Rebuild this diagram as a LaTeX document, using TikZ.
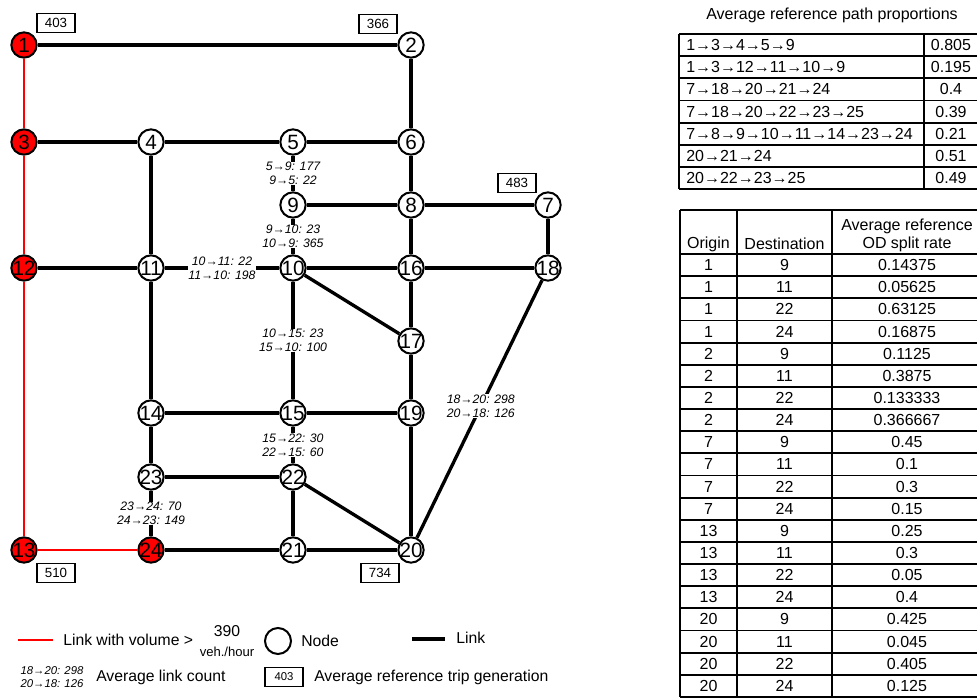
\documentclass[tikz,border=0pt]{standalone}
\usepackage{fontspec}
\setmainfont{Liberation Sans}
\begin{document}
\begin{tikzpicture}[x=0.75pt,y=-0.75pt,
  net/.style={line width=2.5pt, black},
  redl/.style={line width=1.7pt, red},
  vnode/.style={circle, draw, line width=1.5pt, fill=white, minimum size=19pt, inner sep=-4pt, font=\fontsize{15.5}{15.5}\selectfont},
  rnode/.style={vnode, fill=red},
  elab/.style={fill=white, inner sep=0.6pt, align=center, font=\fontsize{9.2}{10.2}\selectfont\itshape},
  gbox/.style={draw, line width=1.1pt, minimum width=28.5pt, minimum height=14.25pt, inner sep=0pt, font=\fontsize{10}{10}\selectfont},
  ttext/.style={inner sep=0pt, font=\fontsize{12}{12}\selectfont},
  tline/.style={line width=1.4pt},
  legtext/.style={inner sep=0pt, anchor=west, font=\fontsize{11.8}{12}\selectfont}]
\useasboundingbox (0,0) rectangle (977,698);

% ---------------- network nodes ----------------
\node[rnode] (n1) at (24,45) {1};
\node[vnode] (n2) at (411,45) {2};
\node[rnode] (n3) at (24,142) {3};
\node[vnode] (n4) at (151,142) {4};
\node[vnode] (n5) at (293,142) {5};
\node[vnode] (n6) at (411,142) {6};
\node[vnode] (n9) at (293,205) {9};
\node[vnode] (n8) at (411,205) {8};
\node[vnode] (n7) at (548,205) {7};
\node[rnode] (n12) at (24,268) {12};
\node[vnode] (n11) at (151,268) {11};
\node[vnode] (n10) at (293,268) {10};
\node[vnode] (n16) at (411,268) {16};
\node[vnode] (n18) at (548,268) {18};
\node[vnode] (n17) at (411,341) {17};
\node[vnode] (n14) at (151,413) {14};
\node[vnode] (n15) at (293,413) {15};
\node[vnode] (n19) at (411,413) {19};
\node[vnode] (n23) at (151,477) {23};
\node[vnode] (n22) at (293,477) {22};
\node[rnode] (n13) at (24,550) {13};
\node[rnode] (n24) at (151,550) {24};
\node[vnode] (n21) at (293,550) {21};
\node[vnode] (n20) at (411,550) {20};

% ---------------- links ----------------
\draw[redl] (n1) -- (n3);
\draw[redl] (n3) -- (n12);
\draw[redl] (n12) -- (n13);
\draw[redl] (n13) -- (n24);

\draw[net] (n1) -- (n2);
\draw[net] (n2) -- (n6);
\draw[net] (n3) -- (n4);
\draw[net] (n4) -- (n5);
\draw[net] (n5) -- (n6);
\draw[net] (n6) -- (n8);
\draw[net] (n4) -- (n11);
\draw[net] (n5) -- node[elab]{5→9: 177\\9→5: 22} (n9);
\draw[net] (n9) -- (n8);
\draw[net] (n8) -- (n7);
\draw[net] (n9) -- node[elab]{9→10: 23\\10→9: 365} (n10);
\draw[net] (n8) -- (n16);
\draw[net] (n7) -- (n18);
\draw[net] (n12) -- (n11);
\draw[net] (n11) -- node[elab]{10→11: 22\\11→10: 198} (n10);
\draw[net] (n10) -- (n16);
\draw[net] (n16) -- (n18);
\draw[net] (n10) -- (n17);
\draw[net] (n16) -- (n17);
\draw[net] (n10) -- node[elab]{10→15: 23\\15→10: 100} (n15);
\draw[net] (n17) -- (n19);
\draw[net] (n11) -- (n14);
\draw[net] (n14) -- (n15);
\draw[net] (n15) -- (n19);
\draw[net] (n14) -- (n23);
\draw[net] (n15) -- node[elab]{15→22: 30\\22→15: 60} (n22);
\draw[net] (n19) -- (n20);
\draw[net] (n18) -- node[elab, pos=0.49]{18→20: 298\\20→18: 126} (n20);
\draw[net] (n23) -- (n22);
\draw[net] (n22) -- (n21);
\draw[net] (n22) -- (n20);
\draw[net] (n23) -- node[elab]{23→24: 70\\24→23: 149} (n24);
\draw[net] (n24) -- (n21);
\draw[net] (n21) -- (n20);

% ---------------- trip generation boxes ----------------
\node[gbox] (g1) at (56,23) {403};
\node[gbox] (g2) at (378,24) {366};
\node[gbox] (g7) at (517,183) {483};
\node[gbox] (g13) at (56,573) {510};
\node[gbox] (g20) at (380,573) {734};

% ---------------- legend ----------------
\coordinate (lr1) at (18,640);
\coordinate (lr2) at (53,640);
\draw[redl] (lr1) -- (lr2);
\node[legtext] (lt1) at (63,640) {Link with volume >};
\node[inner sep=0pt, font=\fontsize{11.8}{12}\selectfont] (l390) at (227,631) {390};
\node[inner sep=0pt, font=\fontsize{9.8}{10}\selectfont] (lveh) at (227,652) {veh./hour};
\node[circle, draw, line width=1.5pt, minimum size=19.5pt, inner sep=0pt] (lnode) at (278,641) {};
\node[legtext] (lt2) at (301,641) {Node};
\coordinate (lb1) at (412,639);
\coordinate (lb2) at (445,639);
\draw[net] (lb1) -- (lb2);
\node[legtext] (lt3) at (456,638) {Link};
\node[inner sep=0pt, align=center, font=\fontsize{8.5}{9.5}\selectfont\itshape] (llab) at (52,677) {18→20: 298\\20→18: 126};
\node[legtext] (lt4) at (96,677) {Average link count};
\node[gbox, font=\fontsize{8.5}{9}\selectfont] (lbox) at (284,677) {403};
\node[legtext] (lt5) at (314,677) {Average reference trip generation};

% ---------------- table 1 ----------------
\node[ttext] (t1title) at (832,15) {Average reference path proportions};
\foreach \i in {0,...,7} {
  \draw[tline] (679,{34+22.15*\i}) -- (977,{34+22.15*\i});
}
\draw[tline] (679,34) -- (679,189.05);
\draw[tline] (924,34) -- (924,189.05);
\foreach \p/\v [count=\i from 0] in {1→3→4→5→9/0.805, 1→3→12→11→10→9/0.195, 7→18→20→21→24/0.4, 7→18→20→22→23→25/0.39, 7→8→9→10→11→14→23→24/0.21, 20→21→24/0.51, 20→22→23→25/0.49} {
  \node[ttext, anchor=west] (t1p\i) at (686,{34+22.15*(\i+0.5)}) {\p};
  \node[ttext] (t1v\i) at (951,{34+22.15*(\i+0.5)}) {\v};
}

% ---------------- table 2 ----------------
\draw[tline] (680,210) -- (977,210);
\foreach \j in {0,...,20} {
  \draw[tline] (680,{254+22.15*\j}) -- (977,{254+22.15*\j});
}
\draw[tline] (680,210) -- (680,697);
\draw[tline] (737,210) -- (737,697);
\draw[tline] (832,210) -- (832,697);
\node[ttext] (h1) at (708.5,244) {Origin};
\node[ttext] (h2) at (784.5,244) {Destination};
\node[ttext] (h3a) at (907,226) {Average reference};
\node[ttext] (h3b) at (907,244) {OD split rate};
\foreach \o/\d/\r [count=\j from 0] in {1/9/0.14375, 1/11/0.05625, 1/22/0.63125, 1/24/0.16875, 2/9/0.1125, 2/11/0.3875, 2/22/0.133333, 2/24/0.366667, 7/9/0.45, 7/11/0.1, 7/22/0.3, 7/24/0.15, 13/9/0.25, 13/11/0.3, 13/22/0.05, 13/24/0.4, 20/9/0.425, 20/11/0.045, 20/22/0.405, 20/24/0.125} {
  \node[ttext] (t2o\j) at (708.5,{254+22.15*(\j+0.5)}) {\o};
  \node[ttext] (t2d\j) at (784.5,{254+22.15*(\j+0.5)}) {\d};
  \node[ttext] (t2r\j) at (907,{254+22.15*(\j+0.5)}) {\r};
}
\end{tikzpicture}
\end{document}
